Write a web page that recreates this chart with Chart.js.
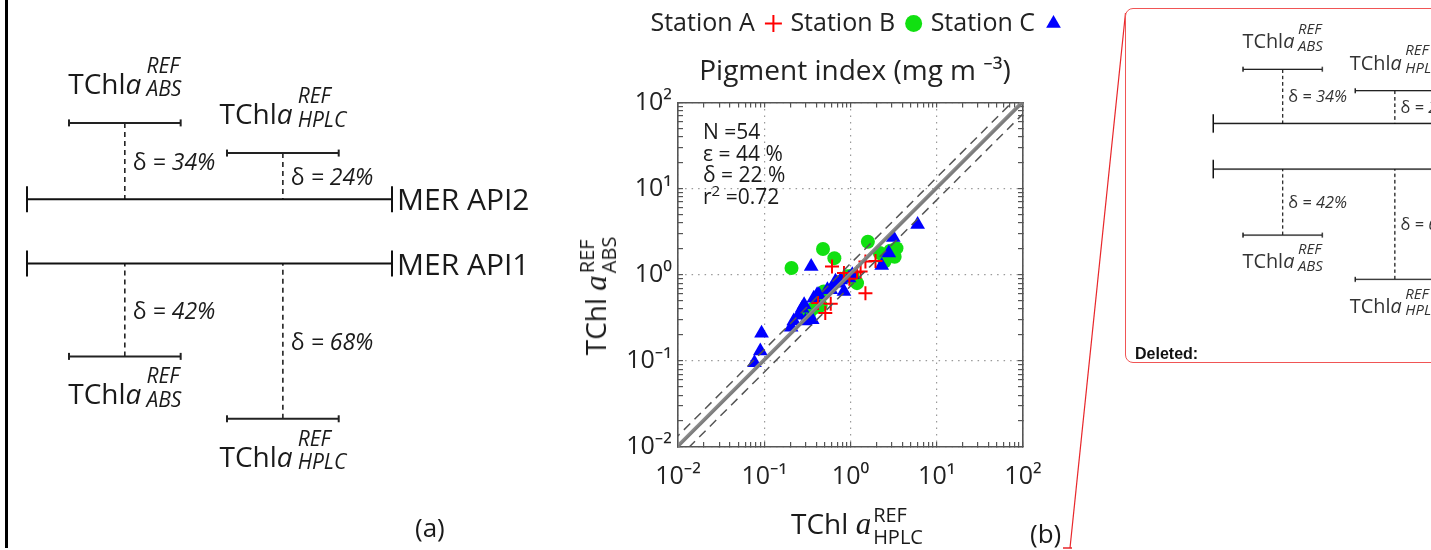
<!DOCTYPE html>
<html>
<head>
<meta charset="utf-8">
<script src="https://cdn.jsdelivr.net/npm/chart.js@4.4.1/dist/chart.umd.min.js"></script>
<style>
  html, body { margin: 0; padding: 0; background: #fff; }
  body { width: 1431px; height: 550px; overflow: hidden; position: relative;
         font-family: "Open Sans", "Noto Sans", sans-serif; color: #1a1a1a; }
  .abs { position: absolute; white-space: nowrap; line-height: 1; }
  .panel { position: absolute; left: 0; top: 0; width: 440px; height: 550px; }
  .panel canvas { position: absolute; left: 0; top: 0; }
  .tchl { font-size: 28px; transform: translate(-50%, -50%); }
  .st { display: inline-flex; flex-direction: column; font-size: 21px; line-height: 1.12;
        font-style: italic; vertical-align: middle; margin-left: 5px; position: relative; top: -8px; }
  .delta { font-size: 23px; font-style: italic; transform: translateY(-50%); }
  .delta .up { font-style: normal; }
  .mer { font-size: 30px; transform: translateY(-50%); }
  .axt { font-size: 28px; }
  .axt .it { font-family: "Liberation Serif", serif; font-style: italic; font-size: 31px; }
  .st2 { display: inline-flex; flex-direction: column; font-size: 20px; line-height: 1.1;
         vertical-align: middle; margin-left: 2px; }
  #stats { font-size: 21px; line-height: 21.5px; left: 703px; top: 121px; }
  #stats sup { font-size: 15px; vertical-align: 8px; line-height: 0; }
  #box { position: absolute; left: 1125px; top: 8px; width: 420px; height: 353px;
         border: 1.5px solid #f05555; border-radius: 8px; overflow: hidden; background: #fff; }
  #copy { position: absolute; left: 67.5px; top: -27px; transform: scale(0.71); transform-origin: 0 0; color: #333; }
  #deleted { position: absolute; left: 9px; top: 336px; font-family: "Liberation Sans", Arial, sans-serif;
             font-weight: bold; font-size: 16px; color: #111; }
</style>
</head>
<body>

<div id="bar" style="position:absolute;left:5px;top:0;width:3px;height:548px;background:#000"></div>
<div class="panel" id="panelA"></div>
<div class="abs" style="left:415px;top:514px;font-size:26px">(a)</div>

<canvas id="pigment" width="550" height="550" style="position:absolute;left:580px;top:0"></canvas>
<div class="abs" id="stats">N =54<br>&epsilon; = 44 %<br>&delta; = 22 %<br>r<sup>2</sup> =0.72</div>
<div class="abs axt" id="ytitle">TChl <i class="it">a</i><span class="st2"><span>REF</span><span>ABS</span></span></div>
<div class="abs axt" id="xtitle">TChl <i class="it">a</i><span class="st2"><span>REF</span><span>HPLC</span></span></div>
<div class="abs" style="left:1030px;top:520px;font-size:26px">(b)</div>

<svg style="position:absolute;left:0;top:0" width="1431" height="550">
  <line x1="1070" y1="548" x2="1125.5" y2="13" stroke="#e8262a" stroke-width="1.2"/>
  <line x1="1063" y1="548" x2="1072" y2="548" stroke="#e8262a" stroke-width="1.5"/>
</svg>
<div id="box">
  <div class="panel" id="copy"></div>
  <div id="deleted">Deleted:</div>
</div>

<script>
// ---- panel (a): the two MER processors against the two references ----
const merNames = ['MER API2', 'MER API1'];
const merLevel = [29.1, 4.4];
const merSpan = [0, 100];
const refNames = ['ABS', 'HPLC', 'ABS', 'HPLC'];
const refCentre = [26.8, 70.1, 26.8, 70.1];
const refLevel = [58.5, 46.9, -31.3, -55.3];
const refLink = [0, 0, 1, 1];        // MER bar each reference hangs from
const refDelta = [34, 24, 42, 68];   // % written next to the dashed link
const refHalf = 15.3;

// ---- panel (b): pigment index, ABS vs HPLC ----
const stationAX = [0.61, 1.49, 1.95, 1.31, 1.19, 1.49, 0.51, 0.59, 0.84, 0.42, 0.97];
const stationAY = [1.25, 1.43, 1.45, 1.09, 1.07, 0.61, 0.36, 0.46, 1.05, 0.47, 0.90];
const stationBX = [0.207, 0.48, 0.65, 1.59, 2.19, 3.41, 3.25, 2.48, 1.19, 0.92, 0.49, 0.375, 0.45, 0.33, 2.9, 1.05];
const stationBY = [1.20, 1.99, 1.56, 2.42, 1.79, 2.04, 1.62, 1.43, 0.80, 0.96, 0.64, 0.41, 0.44, 0.35, 1.9, 0.98];
const stationCX = [6.0, 3.13, 2.78, 2.30, 0.35, 0.093, 0.090, 0.077, 0.205, 0.275, 0.25, 0.33, 0.375, 0.43,
                   0.59, 0.70, 0.84, 1.05, 0.96, 0.29, 0.36, 0.22, 0.77, 0.54, 0.41, 0.30, 0.67];
const stationCY = [3.85, 2.72, 1.79, 1.28, 1.25, 0.21, 0.13, 0.095, 0.246, 0.41, 0.34, 0.30, 0.535, 0.585,
                   0.67, 0.80, 0.64, 1.0, 0.92, 0.45, 0.30, 0.29, 0.87, 0.67, 0.585, 0.29, 0.84];
const axisRange = [0.01, 100];
const bandFactor = 1.35;     // dashed envelope either side of 1:1
const fitSlope = 1.06;       // second solid line (regression)

Chart.defaults.font.family = '"Open Sans", "Noto Sans", sans-serif';
Chart.defaults.color = '#222';

function addText(host, cls, html, x, y) {
    var el = document.createElement('div');
    el.className = 'abs ' + cls;
    el.innerHTML = html;
    el.style.left = x + 'px';
    el.style.top = y + 'px';
    host.appendChild(el);
}

function buildDiagram(host) {
    var canvas = document.createElement('canvas');
    canvas.width = 440;
    canvas.height = 550;
    host.appendChild(canvas);

    var sets = [];
    merLevel.forEach(lv => sets.push({
        data: merSpan.map(x => ({ x: x, y: lv })),
        borderColor: '#111', borderWidth: 2,
        pointStyle: 'line', pointRotation: 90, pointRadius: 13,
        pointBorderWidth: 2, pointBorderColor: '#111'
    }));
    refCentre.forEach((c, i) => {
        sets.push({
            data: [{ x: c - refHalf, y: refLevel[i] }, { x: c + refHalf, y: refLevel[i] }],
            borderColor: '#222', borderWidth: 2,
            pointStyle: 'line', pointRotation: 90, pointRadius: 3.5,
            pointBorderWidth: 2, pointBorderColor: '#222'
        });
        sets.push({
            data: [{ x: c, y: refLevel[i] }, { x: c, y: merLevel[refLink[i]] }],
            borderColor: '#222', borderWidth: 1.6, borderDash: [5, 4], pointRadius: 0
        });
    });

    var chart = new Chart(canvas, {
        type: 'scatter',
        data: { datasets: sets.map(s => Object.assign({ showLine: true, clip: false, pointHoverRadius: 0 }, s)) },
        options: {
            responsive: false, animation: false, events: [],
            layout: { padding: { left: 27, right: 48, top: 0, bottom: 0 } },
            plugins: { legend: { display: false }, tooltip: { enabled: false } },
            scales: {
                x: { type: 'linear', min: 0, max: 100, display: false },
                y: { type: 'linear', min: -100, max: 100, display: false }
            }
        }
    });

    var xs = chart.scales.x, ys = chart.scales.y;
    merNames.forEach((name, i) =>
        addText(host, 'mer', name, xs.getPixelForValue(merSpan[1]) + 5, ys.getPixelForValue(merLevel[i])));
    refNames.forEach((name, i) => {
        var px = xs.getPixelForValue(refCentre[i]);
        var py = ys.getPixelForValue(refLevel[i]);
        var pm = ys.getPixelForValue(merLevel[refLink[i]]);
        var above = py < pm;
        addText(host, 'tchl', 'TChl<i>a</i><span class="st"><span>REF</span><span>' + name + '</span></span>',
            px, above ? py - 37 : py + 40);
        addText(host, 'delta', '<span class="up">\u03b4</span> = ' + refDelta[i] + '%', px + 8, (py + pm) / 2);
    });
    return chart;
}

buildDiagram(document.getElementById('panelA'));
buildDiagram(document.getElementById('copy'));

// log ticks 1..9 per decade, labels only on decades
function logTicks() {
    var ticks = [];
    for (var e = -2; e < 2; e++) {
        for (var m = 1; m < 10; m++) ticks.push({ value: +(m * Math.pow(10, e)).toPrecision(3) });
    }
    ticks.push({ value: 100 });
    return ticks;
}
const supMap = { '-': '\u207b', '0': '\u2070', '1': '\u00b9', '2': '\u00b2', '3': '\u00b3' };
function isDecade(v) {
    var l = Math.log10(v);
    return Math.abs(l - Math.round(l)) < 1e-6;
}
function powLabel(v) {
    if (!isDecade(v)) return '';
    return '10' + String(Math.round(Math.log10(v))).split('').map(c => supMap[c]).join('');
}

function logAxis(position, showLabels, extra) {
    var horizontal = position == 'top' || position == 'bottom';
    return Object.assign({
        type: 'logarithmic', position: position, min: axisRange[0], max: axisRange[1],
        afterBuildTicks: (s) => { s.ticks = logTicks(); },
        ticks: {
            display: showLabels, autoSkip: false, maxRotation: 0, minRotation: 0,
            font: { size: 25 }, color: '#222', padding: horizontal ? 20 : 11,
            callback: (v) => powLabel(v)
        },
        grid: {
            drawOnChartArea: showLabels,
            color: (ctx) => (ctx.tick && isDecade(ctx.tick.value)) ? '#9a9a9a' : 'rgba(0,0,0,0)',
            lineWidth: 1.2,
            tickColor: '#555', tickWidth: 1.2, tickLength: -5, tickBorderDash: []
        },
        border: { display: true, color: '#555', width: 1.6, dash: [1.5, 5] }
    }, extra);
}

function points(xs, ys) {
    return xs.map((x, i) => ({ x: x, y: ys[i] }));
}

new Chart(document.getElementById('pigment'), {
    type: 'scatter',
    data: {
        datasets: [
            { label: 'Station A', data: points(stationAX, stationAY), pointStyle: 'cross', pointRadius: 7,
              borderColor: '#ff0000', backgroundColor: '#ff0000', borderWidth: 2, order: 1 },
            { label: 'Station B', data: points(stationBX, stationBY), pointStyle: 'circle', pointRadius: 7,
              borderColor: '#11e011', backgroundColor: '#11e011', borderWidth: 0, order: 3 },
            { label: 'Station C', data: points(stationCX, stationCY), pointStyle: 'triangle', pointRadius: 8.5,
              borderColor: '#0000ff', backgroundColor: '#0000ff', borderWidth: 0, order: 2 },
            { label: '1:1', data: points(axisRange, axisRange), showLine: true, pointRadius: 0,
              borderColor: '#7c7c7c', borderWidth: 2.2, order: 0 },
            { label: 'fit', data: points(axisRange, axisRange.map(v => v * fitSlope)), showLine: true, pointRadius: 0,
              borderColor: '#8c8c8c', borderWidth: 2.2, order: 0 },
            { label: 'upper', data: points([0.005, 100], [0.005 * bandFactor, 100 * bandFactor]), showLine: true,
              pointRadius: 0, borderColor: '#555', borderWidth: 1.5, borderDash: [9, 6], order: 0 },
            { label: 'lower', data: points([0.01, 200], [0.01 / bandFactor, 200 / bandFactor]), showLine: true,
              pointRadius: 0, borderColor: '#555', borderWidth: 1.5, borderDash: [9, 6], order: 0 }
        ]
    },
    options: {
        responsive: false, animation: false, events: [],
        layout: { padding: { left: 0, right: 0, top: 0, bottom: 53 } },
        plugins: {
            tooltip: { enabled: false },
            legend: {
                position: 'top', weight: 3000, rtl: true, reverse: false, textDirection: 'ltr',
                labels: {
                    usePointStyle: true, boxWidth: 12, boxHeight: 12, padding: 11,
                    font: { size: 25 }, color: '#222',
                    filter: (item) => item.datasetIndex < 3,
                    sort: (a, b) => b.datasetIndex - a.datasetIndex
                }
            },
            title: {
                display: true, text: 'Pigment index (mg m \u207b\u00b3)',
                font: { size: 28, weight: 'normal' }, color: '#222',
                padding: { top: 9, bottom: 14 }
            }
        },
        scales: {
            x: logAxis('bottom', true, { afterFit: (s) => { s.height = 50; } }),
            y: logAxis('left', true, { afterFit: (s) => { s.width = 98; } }),
            x2: logAxis('top', false, { afterFit: (s) => { s.height = 0; } }),
            y2: logAxis('right', false, { afterFit: (s) => { s.width = 107; } })
        }
    }
});

// axis titles centred on their scales' mid points
var yt = document.getElementById('ytitle');
yt.style.left = '598px';
yt.style.top = '296px';
yt.style.transform = 'translate(-50%, -50%) rotate(-90deg)';
var xt = document.getElementById('xtitle');
xt.style.left = '857px';
xt.style.top = '526px';
xt.style.transform = 'translate(-50%, -50%)';
</script>
</body>
</html>
